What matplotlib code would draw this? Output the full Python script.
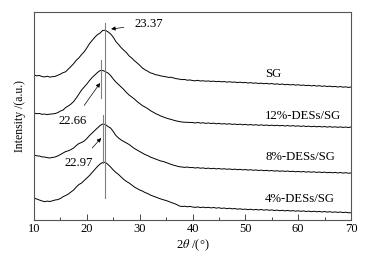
import matplotlib
matplotlib.use('Agg')
import matplotlib.pyplot as plt
import numpy as np

plt.rcParams['font.family'] = ['Liberation Serif', 'DejaVu Serif']
plt.rcParams['mathtext.fontset'] = 'stix'

# 2theta grid (0.5 deg steps from 10 to 70)
two_theta = np.arange(10, 70.25, 0.5)

# intensities (arbitrary units, curves already offset)
sg = [
    145.0, 144.2, 144.6, 143.5, 143.1, 143.8, 142.9, 143.4, 143.6, 144.8,
    145.9, 147.4, 148.3, 151.0, 153.6, 156.4, 159.8, 162.2, 165.5, 168.3,
    172.1, 176.4, 179.6, 182.8, 185.3, 187.0, 189.6, 189.8, 188.2, 186.1,
    182.9, 178.4, 175.6, 172.3, 169.8, 167.4, 164.1, 162.0, 159.3, 157.2,
    154.8, 152.1, 150.3, 148.9, 147.2, 146.5, 145.3, 144.9, 144.1, 143.7,
    143.2, 142.6, 142.8, 141.9, 141.3, 140.9, 140.4, 140.6, 139.8, 140.1,
    139.5, 139.2, 139.7, 139.0, 139.3, 138.8, 139.1, 138.6, 138.9, 138.4,
    138.7, 138.2, 138.5, 137.9, 138.3, 137.8, 138.0, 137.4, 137.9, 137.3,
    137.6, 137.0, 137.4, 136.8, 137.1, 136.5, 136.9, 136.3, 136.7, 136.1,
    136.5, 135.8, 136.2, 135.6, 136.0, 135.3, 135.7, 135.1, 135.5, 134.9,
    135.3, 134.7, 135.0, 134.4, 134.8, 134.1, 134.6, 133.9, 134.4, 133.7,
    134.1, 133.5, 133.9, 133.3, 133.6, 133.0, 133.5, 132.8, 133.2, 132.6,
    133.0,
]
des12 = [
    107.0, 106.3, 106.6, 105.7, 106.0, 105.4, 105.9, 106.1, 106.5, 107.4,
    109.0, 110.0, 112.5, 114.1, 116.0, 118.5, 122.0, 126.0, 130.0, 133.0,
    136.0, 139.5, 142.5, 145.0, 147.5, 149.5, 149.5, 148.5, 147.0, 144.5,
    141.0, 138.0, 135.5, 133.0, 130.5, 127.5, 125.0, 123.0, 121.0, 118.5,
    116.5, 114.5, 113.0, 111.5, 109.5, 108.0, 106.5, 105.3, 104.0, 103.0,
    102.0, 101.2, 100.5, 99.7, 99.0, 98.5, 98.0, 97.8, 97.7, 97.6,
    97.5, 97.0, 97.6, 96.9, 97.3, 96.6, 97.1, 96.5, 96.9, 96.2,
    96.7, 96.0, 96.4, 95.8, 96.3, 95.6, 96.0, 95.4, 95.9, 95.2,
    95.7, 95.0, 95.5, 94.9, 95.3, 94.7, 95.2, 94.6, 95.0, 94.4,
    94.9, 94.3, 94.8, 94.2, 94.6, 94.0, 94.5, 93.9, 94.4, 93.8,
    94.2, 93.6, 94.1, 93.5, 93.9, 93.3, 93.8, 93.2, 93.6, 93.1,
    93.5, 92.9, 93.4, 92.8, 93.2, 92.7, 93.1, 92.6, 93.0, 92.5,
    93.0,
]
des8 = [
    65.0, 64.2, 64.0, 63.1, 63.0, 62.4, 62.0, 62.6, 63.0, 64.1,
    65.5, 67.0, 68.5, 69.2, 70.5, 72.0, 74.5, 76.5, 77.5, 79.0,
    81.5, 84.5, 87.0, 89.5, 92.0, 94.5, 96.0, 95.5, 93.5, 92.0,
    88.5, 84.5, 82.0, 80.0, 78.5, 77.0, 75.5, 73.5, 71.5, 70.0,
    68.5, 67.0, 65.5, 64.5, 63.0, 62.0, 61.0, 60.0, 59.0, 58.5,
    57.5, 56.5, 55.5, 54.7, 54.0, 53.3, 53.0, 52.6, 53.0, 52.4,
    52.5, 52.0, 52.4, 51.8, 52.1, 51.5, 51.9, 51.3, 51.7, 51.1,
    51.5, 50.9, 51.3, 50.7, 51.1, 50.5, 50.9, 50.3, 50.7, 50.1,
    50.5, 49.9, 50.3, 49.7, 50.1, 49.5, 49.9, 49.3, 49.7, 49.1,
    49.5, 48.9, 49.3, 48.7, 49.1, 48.6, 49.0, 48.4, 48.8, 48.2,
    48.6, 48.1, 48.5, 47.9, 48.3, 47.8, 48.2, 47.6, 48.0, 47.5,
    47.9, 47.3, 47.7, 47.2, 47.6, 47.0, 47.5, 46.9, 47.3, 46.8,
    47.0,
]
des4 = [
    22.0, 21.0, 20.0, 19.1, 18.3, 18.9, 18.5, 19.2, 20.0, 20.4,
    21.5, 23.3, 24.5, 26.0, 28.0, 30.0, 33.0, 35.5, 37.0, 39.5,
    42.0, 44.5, 47.5, 50.5, 53.5, 56.0, 57.5, 57.8, 55.5, 53.0,
    50.0, 47.5, 45.5, 43.0, 40.5, 38.5, 37.0, 35.0, 33.0, 31.5,
    30.0, 29.0, 27.5, 26.5, 25.0, 24.0, 23.0, 22.0, 21.0, 20.2,
    19.5, 18.5, 17.5, 16.5, 15.5, 14.0, 13.5, 13.8, 13.2, 13.6,
    13.0, 12.6, 13.1, 12.4, 12.9, 12.3, 12.7, 12.1, 12.5, 11.9,
    12.3, 11.6, 12.0, 11.3, 11.8, 11.1, 11.5, 10.8, 11.2, 10.6,
    10.9, 10.3, 10.8, 10.1, 10.6, 10.0, 10.5, 9.8, 10.3, 9.7,
    10.1, 9.5, 9.9, 9.3, 9.7, 9.1, 9.6, 9.0, 9.4, 8.8,
    9.2, 8.7, 9.1, 8.5, 8.9, 8.3, 8.8, 8.2, 8.6, 8.0,
    8.5, 7.9, 8.3, 7.7, 8.1, 7.6, 8.0, 7.4, 7.8, 7.2,
    7.3,
]

labels = ['SG', '12%-DESs/SG', '8%-DESs/SG', '4%-DESs/SG']
label_y = [146, 104, 63, 21]

# peak markers: position, line start, line end
peak_pos = [23.37, 22.66, 22.97]
peak_lo = [22, 122, 57]
peak_hi = [197, 160, 105]
# annotation text position and arrow head
peak_text = [(31.8, 196), (17.4, 99), (18.5, 57)]
peak_head = [(24.6, 191), (22.5, 137), (22.7, 82)]

fig = plt.figure(figsize=(3.65, 2.58), dpi=100)
ax = fig.add_axes([0.0932, 0.1473, 0.8685, 0.806])

for y in [sg, des12, des8, des4]:
    ax.plot(two_theta, y, color='black', lw=0.7)

for p, lo, hi in zip(peak_pos, peak_lo, peak_hi):
    ax.plot([p, p], [lo, hi], color='#808080', lw=0.8)

for p, (tx, ty), (hx, hy) in zip(peak_pos, peak_text, peak_head):
    ax.annotate(f'{p:.2f}', xy=(hx, hy), xytext=(tx, ty), fontsize=9.2,
                ha='center', va='center',
                arrowprops=dict(arrowstyle='-|>', color='black', lw=0.5,
                                mutation_scale=6, shrinkA=6, shrinkB=0))

for lab, ly in zip(labels, label_y):
    ax.text(53.75, ly, lab, fontsize=9.2, ha='left', va='center')

ax.set_xlim(10, 70)
ax.set_ylim(0, 208)
ax.set_xticks(np.arange(10, 71, 10))
ax.set_xticks(np.arange(15, 70, 10), minor=True)
ax.set_yticks([])
ax.tick_params(axis='x', which='major', direction='in', length=4, width=0.7,
               labelsize=9, pad=2, color='#444444')
ax.tick_params(axis='x', which='minor', direction='in', length=2.5, width=0.7,
               color='#444444')
for s in ax.spines.values():
    s.set_color('#555555')
    s.set_linewidth(0.8)

ax.set_xlabel(r'2$\theta$ /(°)', fontsize=9, labelpad=2)
ax.set_ylabel('Intensity /(a.u.)', fontsize=8.5, labelpad=6)

fig.savefig('out.png', dpi=100)
